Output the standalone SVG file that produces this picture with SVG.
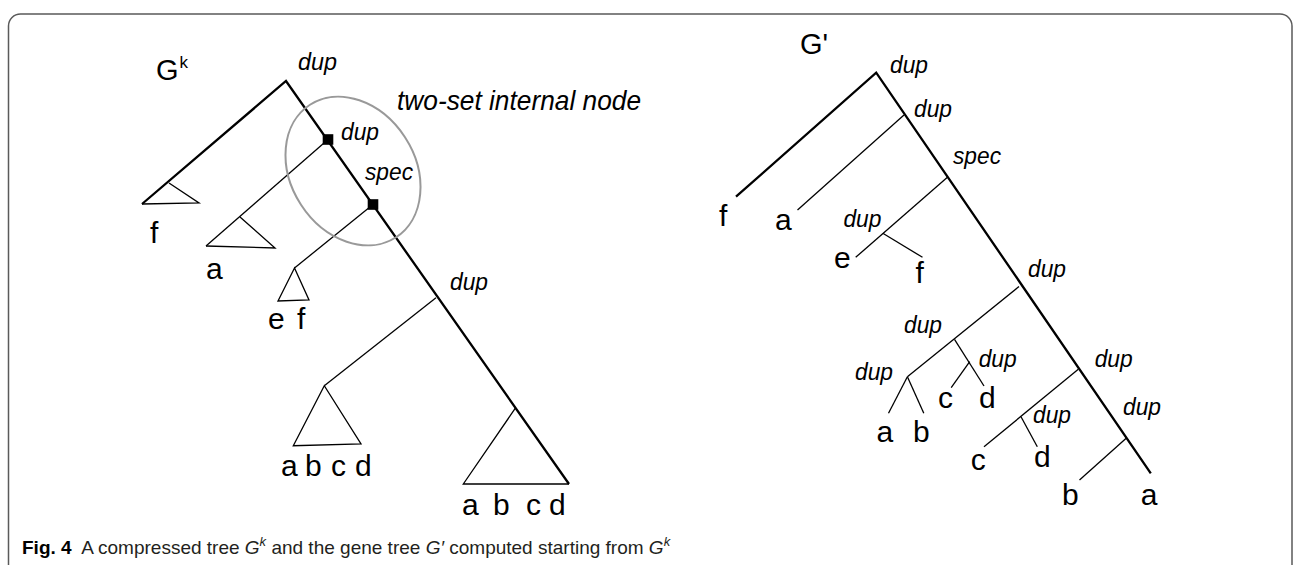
<svg xmlns="http://www.w3.org/2000/svg" width="1293" height="565" viewBox="0 0 1293 565">
<style>
.frame{fill:none;stroke:#5a5a5a;stroke-width:1.5}
.thick{fill:none;stroke:#000;stroke-width:2.3;stroke-linejoin:miter}
.thin{fill:none;stroke:#000;stroke-width:1.3}
.ell{fill:none;stroke:#999;stroke-width:2}
.sq{fill:#000}
text{font-family:"Liberation Sans",Arial,sans-serif;fill:#000}
.ev{font-size:24px;font-style:italic}
.big{font-size:28px;font-style:italic}
.leaf{font-size:30px}
.title{font-size:29px}
.cap{font-size:19px;fill:#231f20}
</style>
<rect width="1293" height="565" fill="#fff"/>
<path class="frame" d="M8.5,565 V26 A12,12 0 0 1 20.5,14 H1280 A12,12 0 0 1 1292,26 V565"/>

<g id="connectors">
  <!-- left tree Gk -->
  <polyline class="thick" points="142,204 286,81 569,484"/>
  <polyline class="thin" points="169,183 199,203 142,204"/>
  <line class="thin" x1="328" y1="139.5" x2="206" y2="246"/>
  <polyline class="thin" points="240,217 275,248 206,246"/>
  <line class="thin" x1="373" y1="204.5" x2="294.5" y2="268"/>
  <line class="thin" x1="436" y1="297.7" x2="324.3" y2="385.7"/>
  <polyline class="thin" points="515.7,407.7 463.3,484 569,484"/>
  <!-- right tree G' -->
  <polyline class="thick" points="736,196.7 876.2,72.7 1150.8,473.3"/>
  <line class="thin" x1="904" y1="115" x2="797.5" y2="210"/>
  <line class="thin" x1="948" y1="176.7" x2="855.7" y2="257.3"/>
  <line class="thin" x1="882.8" y1="233.3" x2="922.5" y2="257.3"/>
  <line class="thin" x1="1019" y1="286.5" x2="907.4" y2="376.7"/>
  <line class="thin" x1="907.4" y1="376.7" x2="888.5" y2="413.3"/>
  <line class="thin" x1="907.4" y1="376.7" x2="923.8" y2="413.3"/>
  <line class="thin" x1="954.5" y1="339.3" x2="984" y2="386"/>
  <line class="thin" x1="969.7" y1="361.7" x2="951.2" y2="387.7"/>
  <line class="thin" x1="1078.3" y1="369.3" x2="984" y2="446.7"/>
  <line class="thin" x1="1021" y1="416.7" x2="1037.3" y2="446.7"/>
  <line class="thin" x1="1126.2" y1="438.3" x2="1079.5" y2="480"/>
</g>

<g id="gk-label"><text class="title" x="156" y="80">G<tspan font-size="17" dx="1" dy="-12">k</tspan></text></g>
<g id="gk-root"><text class="ev" x="298" y="70" textLength="39" lengthAdjust="spacingAndGlyphs">dup</text></g>
<g id="two-set-node">
  <ellipse class="ell" cx="353" cy="171" rx="62" ry="79" transform="rotate(-33 353 171)"/>
  <rect class="sq" x="322.7" y="134.2" width="10.6" height="10.6"/>
  <rect class="sq" x="367.7" y="199.2" width="10.6" height="10.6"/>
  <text class="ev" x="341" y="140" textLength="38" lengthAdjust="spacingAndGlyphs">dup</text>
  <text class="ev" x="365" y="180" textLength="48" lengthAdjust="spacingAndGlyphs">spec</text>
  <text class="big" x="397" y="110" textLength="244" lengthAdjust="spacingAndGlyphs">two-set internal node</text>
</g>
<g id="gk-dup2"><text class="ev" x="450" y="290" textLength="38" lengthAdjust="spacingAndGlyphs">dup</text></g>
<g id="gk-leaf-f"><text class="leaf" x="150" y="243">f</text></g>
<g id="gk-leaf-a"><text class="leaf" x="206" y="278.5">a</text></g>
<g id="gk-leaf-ef">
  <polygon class="thin" points="294.5,268 278,301 309,300"/>
  <text class="leaf" y="329"><tspan x="268">e</tspan> <tspan x="297">f</tspan></text>
</g>
<g id="gk-leaf-abcd1">
  <polygon class="thin" points="324.3,385.7 293.3,445.7 361,444"/>
  <text class="leaf" y="476"><tspan x="281">a</tspan> <tspan x="305">b</tspan> <tspan x="331">c</tspan> <tspan x="355">d</tspan></text>
</g>
<g id="gk-leaf-abcd2">
  <text class="leaf" y="515"><tspan x="462">a</tspan> <tspan x="493">b</tspan> <tspan x="526">c</tspan> <tspan x="549">d</tspan></text>
</g>

<g id="gp-label"><text class="title" x="800" y="54">G'</text></g>
<g id="gp-n1"><text class="ev" x="890" y="73" textLength="38" lengthAdjust="spacingAndGlyphs">dup</text></g>
<g id="gp-n2"><text class="ev" x="914" y="116.7" textLength="38" lengthAdjust="spacingAndGlyphs">dup</text></g>
<g id="gp-n3"><text class="ev" x="953" y="164" textLength="48" lengthAdjust="spacingAndGlyphs">spec</text></g>
<g id="gp-n4"><text class="ev" x="843.4" y="227.3" textLength="38" lengthAdjust="spacingAndGlyphs">dup</text></g>
<g id="gp-n5"><text class="ev" x="1028" y="277.3" textLength="38" lengthAdjust="spacingAndGlyphs">dup</text></g>
<g id="gp-n6"><text class="ev" x="904" y="333.3" textLength="38" lengthAdjust="spacingAndGlyphs">dup</text></g>
<g id="gp-n7"><text class="ev" x="855" y="380" textLength="38" lengthAdjust="spacingAndGlyphs">dup</text></g>
<g id="gp-n8"><text class="ev" x="978.7" y="367.3" textLength="38" lengthAdjust="spacingAndGlyphs">dup</text></g>
<g id="gp-n9"><text class="ev" x="1094.7" y="366.7" textLength="38" lengthAdjust="spacingAndGlyphs">dup</text></g>
<g id="gp-n10"><text class="ev" x="1033" y="423.3" textLength="38" lengthAdjust="spacingAndGlyphs">dup</text></g>
<g id="gp-n11"><text class="ev" x="1123" y="415" textLength="38" lengthAdjust="spacingAndGlyphs">dup</text></g>
<g id="gp-leaf-f1"><text class="leaf" x="719" y="226">f</text></g>
<g id="gp-leaf-a1"><text class="leaf" x="775" y="230">a</text></g>
<g id="gp-leaf-e"><text class="leaf" x="834" y="268.3">e</text></g>
<g id="gp-leaf-f2"><text class="leaf" x="915.5" y="283">f</text></g>
<g id="gp-leaf-a2"><text class="leaf" x="876.5" y="441.7">a</text></g>
<g id="gp-leaf-b2"><text class="leaf" x="913" y="441.7">b</text></g>
<g id="gp-leaf-c1"><text class="leaf" x="938" y="408.3">c</text></g>
<g id="gp-leaf-d1"><text class="leaf" x="979" y="408.3">d</text></g>
<g id="gp-leaf-c2"><text class="leaf" x="970.7" y="470">c</text></g>
<g id="gp-leaf-d2"><text class="leaf" x="1034" y="466.7">d</text></g>
<g id="gp-leaf-b3"><text class="leaf" x="1062" y="505">b</text></g>
<g id="gp-leaf-a3"><text class="leaf" x="1140.8" y="505">a</text></g>

<g id="caption"><text class="cap" x="22" y="554" xml:space="preserve"><tspan font-weight="bold" fill="#000">Fig. 4</tspan>  A compressed tree <tspan font-style="italic">G</tspan><tspan font-style="italic" font-size="13" dy="-8">k</tspan><tspan dy="8"> and the gene tree </tspan><tspan font-style="italic">G′</tspan> computed starting from <tspan font-style="italic">G</tspan><tspan font-style="italic" font-size="13" dy="-8">k</tspan></text></g>
</svg>
